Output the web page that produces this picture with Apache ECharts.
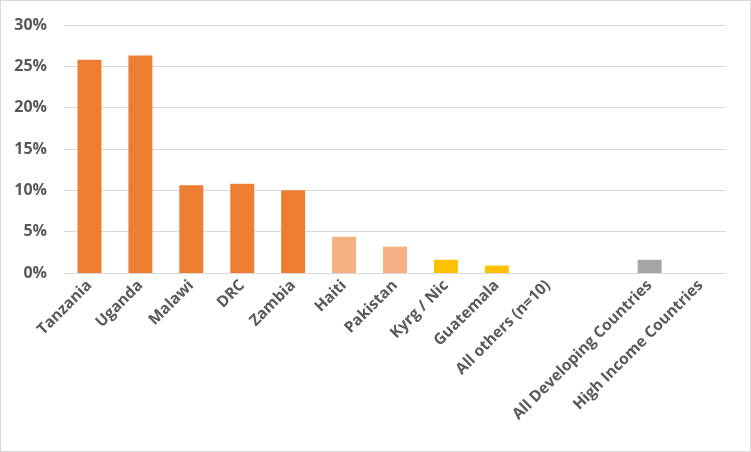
<!DOCTYPE html>
<html>
<head>
<meta charset="utf-8">
<script src="https://cdn.jsdelivr.net/npm/echarts@6/dist/echarts.min.js"></script>
<style>
  html, body { margin: 0; padding: 0; background: #fff; }
  #chart { width: 751px; height: 452px; box-sizing: border-box; border: 1px solid #d9d9d9; }
</style>
</head>
<body>
<div id="chart"></div>
<script>
// 数据
const categories = ["Tanzania", "Uganda", "Malawi", "DRC", "Zambia", "Haiti", "Pakistan",
  "Kyrg / Nic", "Guatemala", "All others (n=10)", "", "All Developing Countries", "High Income Countries"];
const values = [25.8, 26.3, 10.6, 10.8, 10.0, 4.4, 3.2, 1.6, 0.9, 0, null, 1.6, 0];
const barColors = ["#ED7D31", "#ED7D31", "#ED7D31", "#ED7D31", "#ED7D31", "#F4B183", "#F4B183",
  "#FFC000", "#FFC000", "#FFC000", "#A5A5A5", "#A5A5A5", "#A5A5A5"];
const yTicks = [0, 5, 10, 15, 20, 25, 30];

const myChart = echarts.init(document.getElementById("chart"));
const option = {
  animation: false,
  grid: { left: 63, right: 24, top: 24, bottom: 178 },
  xAxis: {
    type: "category",
    data: categories,
    axisLine: { lineStyle: { color: "#d9d9d9", width: 1 } },
    axisTick: { show: false },
    axisLabel: {
      interval: 0,
      rotate: 45,
      margin: 10,
      color: "#595959",
      fontSize: 15.5,
      fontWeight: "bold",
      fontFamily: "Open Sans"
    }
  },
  yAxis: {
    type: "value",
    min: yTicks[0],
    max: yTicks[yTicks.length - 1],
    interval: 5,
    axisLine: { show: false },
    axisTick: { show: false },
    splitLine: { lineStyle: { color: "#d9d9d9", width: 1 } },
    axisLabel: {
      formatter: (v) => v + "%",
      margin: 17,
      color: "#595959",
      fontSize: 16,
      fontWeight: "bold",
      fontFamily: "Open Sans"
    }
  },
  series: [
    {
      type: "bar",
      barWidth: "47%",
      data: values.map((v, i) => ({ value: v, itemStyle: { color: barColors[i] } }))
    }
  ]
};
myChart.setOption(option);
</script>
</body>
</html>
